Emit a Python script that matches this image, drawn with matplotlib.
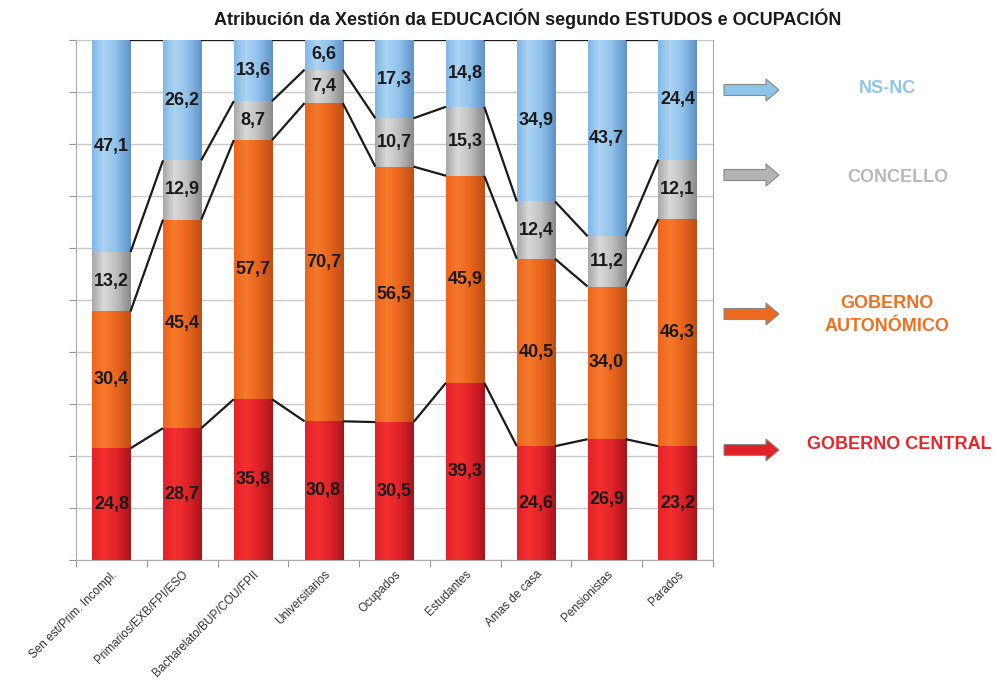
import numpy as np
import matplotlib
matplotlib.use("Agg")
import matplotlib.pyplot as plt
from matplotlib.colors import LinearSegmentedColormap
from matplotlib.patches import FancyArrow

plt.rcParams['font.family'] = ['Liberation Sans', 'DejaVu Sans']

categorias = ['Sen est/Prim. Incompl.', 'Primarios/EXB/FPI/ESO', 'Bacharelato/BUP/COU/FPII',
              'Universitarios', 'Ocupados', 'Estudantes', 'Amas de casa', 'Pensionistas', 'Parados']
goberno_central = [24.8, 28.7, 35.8, 30.8, 30.5, 39.3, 24.6, 26.9, 23.2]
goberno_autonomico = [30.4, 45.4, 57.7, 70.7, 56.5, 45.9, 40.5, 34.0, 46.3]
concello = [13.2, 12.9, 8.7, 7.4, 10.7, 15.3, 12.4, 11.2, 12.1]
ns_nc = [47.1, 26.2, 13.6, 6.6, 17.3, 14.8, 34.9, 43.7, 24.4]

series = [goberno_central, goberno_autonomico, concello, ns_nc]
# gradientes (esquerda, claro, medio, dereita escura) de cada serie
gradientes = [
    ['#e2222a', '#f3302f', '#e3242a', '#a9141b'],
    ['#ee641c', '#f57a2c', '#ec661e', '#c04e15'],
    ['#a8a8a8', '#d9d9d9', '#c2c2c2', '#8a8a8a'],
    ['#82b8e4', '#acd3f2', '#92c4ec', '#5f93c9'],
]

dados = np.array(series, dtype=float)
porcentaxe = dados / dados.sum(axis=0) * 100
x = np.arange(len(categorias))
ancho = 0.54

fig = plt.figure(figsize=(9.95, 6.91), dpi=100)
ax = fig.add_axes([0.0764, 0.1896, 0.64, 0.7525])

abaixo = np.zeros(len(categorias))
topes = []
for valores, pct, cores in zip(series, porcentaxe, gradientes):
    barras = ax.bar(x, pct, ancho, bottom=abaixo, color=cores[2], edgecolor='none', zorder=3)
    cmap = LinearSegmentedColormap.from_list('g', list(zip([0, 0.3, 0.6, 1.0], cores)))
    grad = np.linspace(0, 1, 64).reshape(1, -1)
    for b in barras:
        im = ax.imshow(grad, cmap=cmap, aspect='auto', zorder=3,
                       extent=[b.get_x(), b.get_x() + b.get_width(), b.get_y(), b.get_y() + b.get_height()])
        im.set_clip_path(b)
    for xi, v, p, a in zip(x, valores, pct, abaixo):
        ax.text(xi, a + p / 2, f'{v:.1f}'.replace('.', ','), ha='center', va='center',
                fontsize=13, fontweight='bold', color='#1a1a1a', zorder=5)
    abaixo = abaixo + pct
    topes.append(abaixo.copy())

# liñas de serie entre barras
for t in topes:
    for i in range(len(categorias) - 1):
        ax.plot([x[i] + ancho / 2, x[i + 1] - ancho / 2], [t[i], t[i + 1]],
                color='#1a1a1a', lw=1.6, zorder=4, solid_capstyle='butt')

ax.set_xlim(-0.5, len(categorias) - 0.5)
ax.set_ylim(0, 100)
ax.set_yticks(np.arange(0, 101, 10))
ax.set_yticklabels([])
ax.yaxis.grid(True, color='#c8c8c8', lw=1.0, zorder=0)
ax.set_axisbelow(True)
ax.tick_params(axis='y', length=5, color='#999999', direction='out')

ax.set_xticks(np.arange(-0.5, len(categorias), 1), minor=False)
ax.set_xticklabels([])
ax.set_xticks(x, minor=True)
ax.set_xticklabels(categorias, minor=True, rotation=45, ha='right', rotation_mode='anchor',
                   fontsize=8.5, color='#333333')
ax.tick_params(axis='x', which='major', length=5, color='#999999', direction='out')
ax.tick_params(axis='x', which='minor', length=0, pad=6)

for lado in ['left', 'bottom', 'right']:
    ax.spines[lado].set_color('#aaaaaa')
ax.spines['top'].set_visible(False)

fig.text(0.53, 0.973, 'Atribución da Xestión da EDUCACIÓN segundo ESTUDOS e OCUPACIÓN',
         ha='center', va='center', fontsize=13, fontweight='bold', color='#1a1a1a')

# lenda con frechas
lenda = fig.add_axes([0, 0, 1, 1])
lenda.set_xlim(0, 995)
lenda.set_ylim(691, 0)
lenda.axis('off')

lenda_items = [
    ('NS-NC', 90, 887, 88, '#8ec3ea', '#8ec5ec'),
    ('CONCELLO', 175, 898, 177, '#b4b4b4', '#b8b8b8'),
    ('GOBERNO\nAUTONÓMICO', 314, 887, 315, '#ec6a20', '#f07020'),
    ('GOBERNO CENTRAL', 450, 899, 444, '#e02228', '#e8262a'),
]
for texto, ya, xt, yt, cor_frecha, cor_texto in lenda_items:
    lenda.add_patch(FancyArrow(724, ya, 42, 0, width=11, head_width=22, head_length=13,
                               length_includes_head=False, facecolor=cor_frecha,
                               edgecolor='#888888', lw=0.8))
    lenda.text(xt, yt, texto, ha='center', va='center', fontsize=13, fontweight='bold',
               color=cor_texto, linespacing=1.45)

fig.savefig('out.png', dpi=100)
